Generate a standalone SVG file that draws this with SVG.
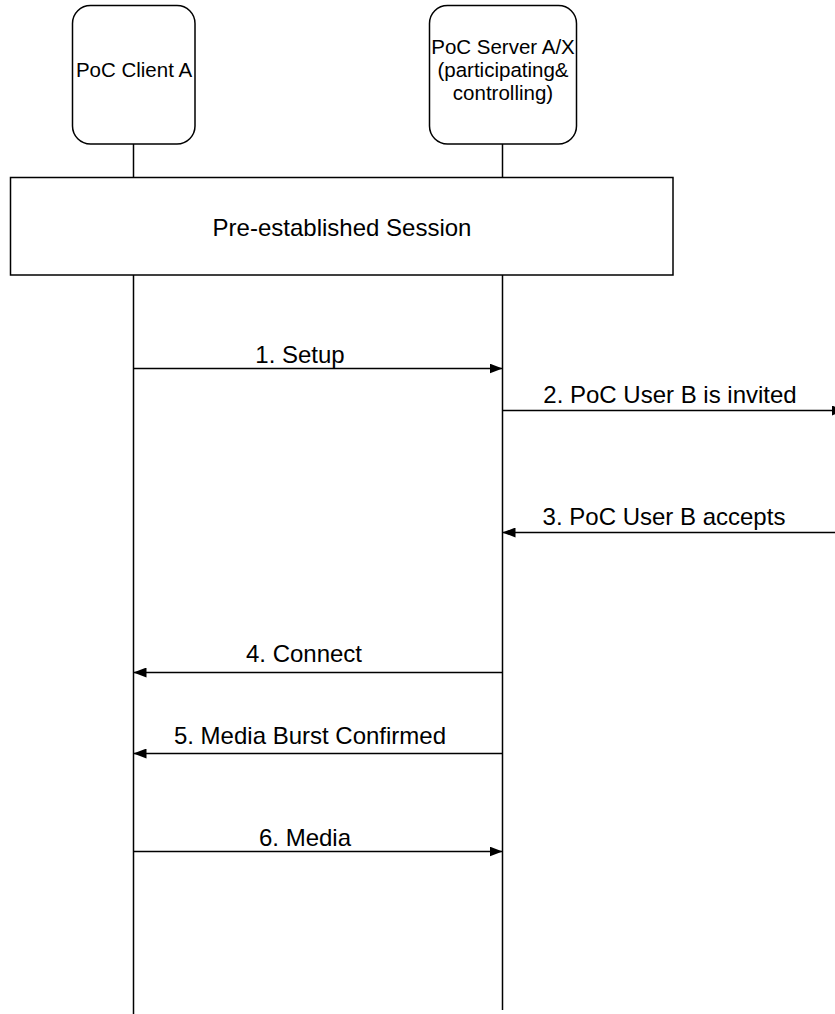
<svg xmlns="http://www.w3.org/2000/svg" width="835" height="1014" viewBox="0 0 835 1014">
<style>
.box{fill:#fff;stroke:#000;stroke-width:1.5}
.life{stroke:#000;stroke-width:1.5;fill:none}
.msg{stroke:#000;stroke-width:1.5;fill:none}
.t{font-family:"Liberation Sans",Arial,sans-serif;fill:#000}
.lbl{font-size:24px;text-anchor:middle}
.nd{font-size:20.5px;text-anchor:middle}
</style>
<defs>
<marker id="ah" viewBox="0 0 13 10" refX="13" refY="5" markerWidth="13" markerHeight="10" markerUnits="userSpaceOnUse" orient="auto">
<path d="M0,0 L13,5 L0,10 Z" fill="#000"/>
</marker>
</defs>
<g id="lifelines">
<line class="life" x1="133.5" y1="144" x2="133.5" y2="177.5"/>
<line class="life" x1="133.5" y1="275" x2="133.5" y2="1014"/>
<line class="life" x1="502.5" y1="144" x2="502.5" y2="177.5"/>
<line class="life" x1="502.5" y1="275" x2="502.5" y2="1010"/>
</g>
<g id="client-a">
<rect class="box" x="72.5" y="5.5" width="122.5" height="138.5" rx="18" ry="18"/>
<text class="t nd" x="134" y="77">PoC Client A</text>
</g>
<g id="server-ax">
<rect class="box" x="429.5" y="5.5" width="147" height="138.5" rx="18" ry="18"/>
<text class="t nd" x="503" y="54">PoC Server A/X</text>
<text class="t nd" x="503" y="77">(participating&amp;</text>
<text class="t nd" x="503" y="100">controlling)</text>
</g>
<g id="pre-established">
<rect class="box" x="10.5" y="177.5" width="662.5" height="97.5"/>
<text class="t lbl" x="342" y="236">Pre-established Session</text>
</g>
<g id="connectors">
<line class="msg" x1="133.5" y1="368.5" x2="502.5" y2="368.5" marker-end="url(#ah)"/>
<text class="t lbl" x="300" y="363">1. Setup</text>
<line class="msg" x1="502.5" y1="410.5" x2="845" y2="410.5" marker-end="url(#ah)"/>
<text class="t lbl" x="670" y="403">2. PoC User B is invited</text>
<line class="msg" x1="835" y1="532.5" x2="502.5" y2="532.5" marker-end="url(#ah)"/>
<text class="t lbl" x="664" y="525">3. PoC User B accepts</text>
<line class="msg" x1="502.5" y1="672.5" x2="133.5" y2="672.5" marker-end="url(#ah)"/>
<text class="t lbl" x="304" y="662">4. Connect</text>
<line class="msg" x1="502.5" y1="753.5" x2="133.5" y2="753.5" marker-end="url(#ah)"/>
<text class="t lbl" x="310" y="744">5. Media Burst Confirmed</text>
<line class="msg" x1="133.5" y1="851.5" x2="502.5" y2="851.5" marker-end="url(#ah)"/>
<text class="t lbl" x="305" y="846">6. Media</text>
</g>
</svg>
